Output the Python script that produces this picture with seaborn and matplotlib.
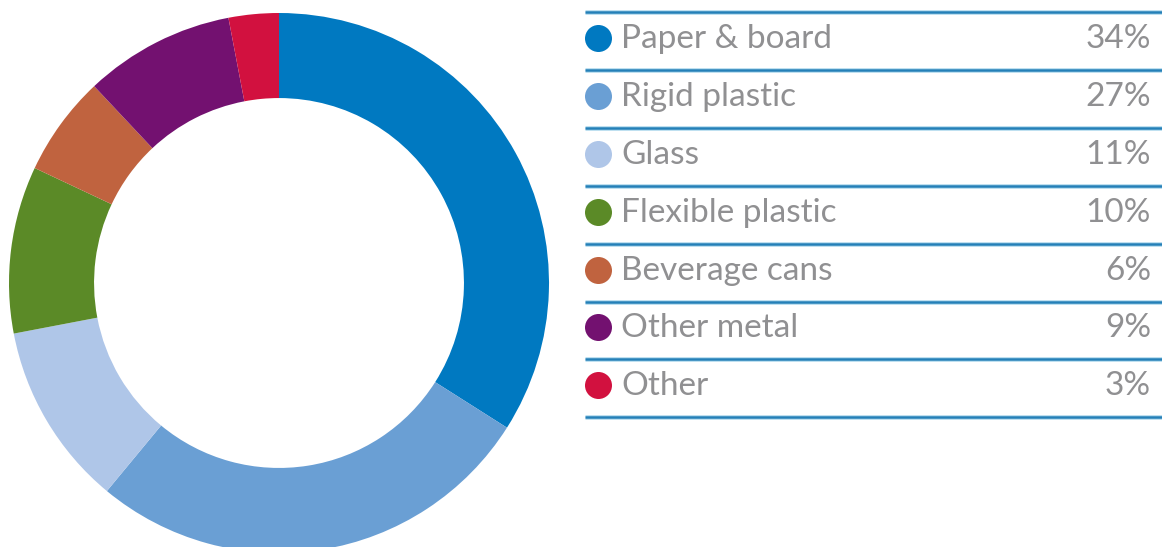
import matplotlib
matplotlib.use('Agg')
import matplotlib.pyplot as plt
import seaborn as sns
import numpy as np

categorias = ['Paper & board', 'Rigid plastic', 'Glass', 'Flexible plastic',
              'Beverage cans', 'Other metal', 'Other']
porcentajes = [34, 27, 11, 10, 6, 9, 3]
colores = ['#0079c1', '#6a9fd4', '#afc6e8', '#5b8a27', '#c0633f', '#731170', '#d2113f']

sns.set_theme(style='white')
plt.rcParams['font.family'] = ['Lato', 'DejaVu Sans']

W, H = 1162, 547
fig = plt.figure(figsize=(W / 100, H / 100), dpi=100)

# Donut (centro ~ (279, 283) px, radio ~270 px)
cx, cy, r = 279, 283, 270
ax = fig.add_axes([(cx - r) / W, (H - cy - r) / H, 2 * r / W, 2 * r / H])
ax.pie(porcentajes, colors=colores, startangle=90, counterclock=False,
       radius=1, wedgeprops=dict(width=0.315, linewidth=0))
ax.set_xlim(-1, 1)
ax.set_ylim(-1, 1)
ax.set_aspect('equal')
ax.axis('off')

# Tabla leyenda
ax2 = fig.add_axes([0, 0, 1, 1])
ax2.set_xlim(0, W)
ax2.set_ylim(H, 0)
ax2.axis('off')
ax2.patch.set_alpha(0)

y0, paso = 12, 57.9
n = len(categorias)
for i in range(n + 1):
    y = y0 + i * paso
    ax2.plot([585, 1162], [y, y], color='#bfe0f0', lw=3.6, solid_capstyle='butt')
    ax2.plot([585, 1162], [y, y], color='#2480b8', lw=1.8, solid_capstyle='butt')

for i, (cat, pct, col) in enumerate(zip(categorias, porcentajes, colores)):
    ym = y0 + (i + 0.5) * paso - 3
    ax2.scatter([598], [ym], s=(27 * 0.72) ** 2, color=col, linewidths=0)
    ax2.text(621, ym + 1, cat, fontsize=24, color='#909092',
             va='center', ha='left')
    ax2.text(1151, ym + 1, f'{pct}%', fontsize=24, color='#909092',
             va='center', ha='right')

fig.savefig('out.png', dpi=100)
